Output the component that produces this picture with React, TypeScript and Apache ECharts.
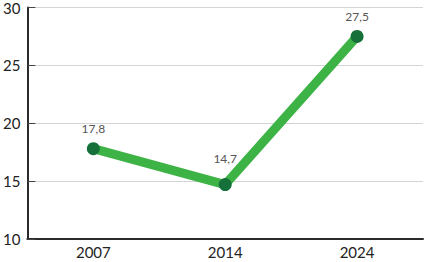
import React, { useEffect, useRef } from "react";
import * as echarts from "echarts";

const categories = ["2007", "2014", "2024"];
const values = [17.8, 14.7, 27.5];
const labelDistances = [8, 14, 7];

export default function App() {
  const ref = useRef<HTMLDivElement>(null);
  useEffect(() => {
    const chart = echarts.init(ref.current!, null, { renderer: "svg" });
    const font = "Lato, 'Open Sans', sans-serif";
    chart.setOption({
      animation: false,
      grid: { left: 24, right: 1, top: 6, bottom: 23, containLabel: false },
      xAxis: {
        type: "category",
        data: categories,
        boundaryGap: true,
        axisLine: { lineStyle: { color: "#2b2b2b", width: 2 } },
        axisTick: { inside: true, length: 5, lineStyle: { color: "#444", width: 1 } },
        axisLabel: { color: "#222", fontSize: 15, fontFamily: font, margin: 5 },
        splitLine: { show: false },
      },
      yAxis: {
        type: "value",
        min: 10,
        max: 30,
        interval: 5,
        axisLine: { show: true, lineStyle: { color: "#2b2b2b", width: 2 } },
        axisTick: { show: true, inside: true, length: 8, lineStyle: { color: "#444", width: 1 } },
        axisLabel: { color: "#222", fontSize: 15, fontFamily: font, margin: 7 },
        splitLine: { show: true, lineStyle: { color: "#d4d4d4", width: 1 } },
      },
      series: [
        {
          type: "line",
          data: values.map((v, i) => ({
            value: v,
            label: { distance: labelDistances[i] },
          })),
          lineStyle: { color: "#3db346", width: 9, cap: "round" },
          symbol: "circle",
          symbolSize: 13,
          itemStyle: { color: "#16703a" },
          label: {
            show: true,
            position: "top",
            color: "#555",
            fontSize: 12,
            fontFamily: font,
            formatter: (p: any) => String(p.value).replace(".", ","),
          },
        },
      ],
    });
    return () => chart.dispose();
  }, []);
  return (
    <div
      ref={ref}
      style={{ position: "absolute", left: 0, top: 0, width: 424, height: 262 }}
    />
  );
}
